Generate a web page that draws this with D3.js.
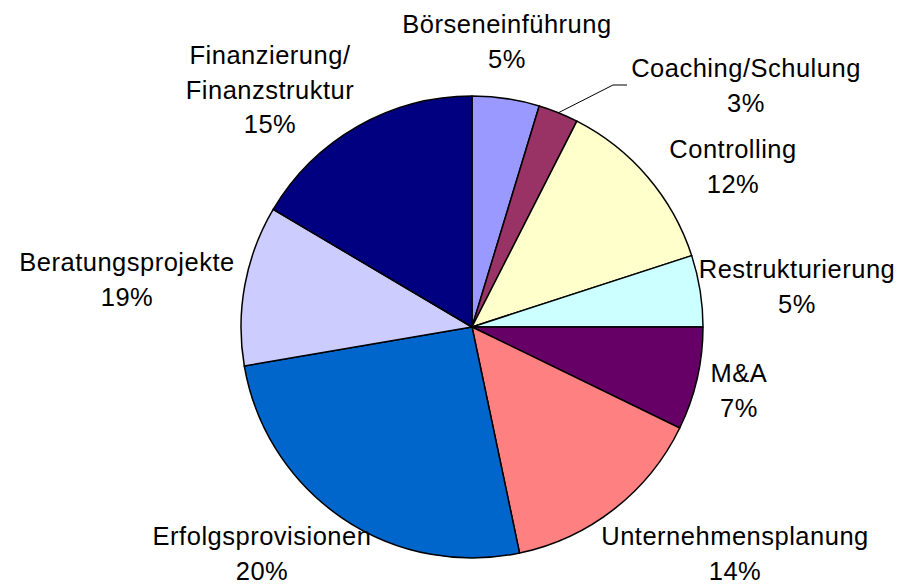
<!DOCTYPE html>
<html>
<head>
<meta charset="utf-8">
<script src="https://cdn.jsdelivr.net/npm/d3@7"></script>
<style>
  body { margin: 0; background: #fff; }
  svg { display: block; }
  text { font-family: "Liberation Sans", Arial, sans-serif; fill: #000; }
</style>
</head>
<body>
<svg id="svg" width="907" height="587"></svg>
<script>
// DATA
var categories = ["Börseneinführung", "Coaching/Schulung", "Controlling", "Restrukturierung", "M&A",
  "Unternehmensplanung", "Erfolgsprovisionen", "Beratungsprojekte", "Finanzierung/\nFinanzstruktur"];
// slice sizes as drawn (share of the circle, %)
var sliceValues = [4.7, 2.8, 12.5, 5.0, 7.2, 14.5, 25.6, 11.2, 16.5];
// percentages as printed on the labels
var pctLabels = ["5%", "3%", "12%", "5%", "7%", "14%", "20%", "19%", "15%"];
var colors = ["#9999ff", "#993366", "#ffffcc", "#ccffff", "#660066",
  "#ff8080", "#0066cc", "#ccccff", "#000080"];

// label anchor (centre x, first baseline y)
var labelPos = [[507, 33], [746, 77], [733, 158], [797, 278], [739, 382],
  [735, 545], [262, 545], [127, 271], [270, 64]];

// SETUP
var svg = d3.select("#svg"),
  cx = 472, cy = 327, radius = 231,
  lineH = 34.5;

var pie = d3.pie().sort(null).value(function (d) { return d; });
var arc = d3.arc().innerRadius(0).outerRadius(radius);
var arcs = pie(sliceValues);

var g = svg.append("g")
  .attr("transform", "translate(" + cx + "," + cy + ")");

g.selectAll(".slice")
  .data(arcs)
  .enter().append("path")
  .attr("class", "slice")
  .attr("d", arc)
  .attr("fill", function (d, i) { return colors[i]; })
  .attr("stroke", "#000")
  .attr("stroke-width", 1.5)
  .attr("stroke-linejoin", "round");

// leader line for the small Coaching slice
var a = arcs[1], mid = (a.startAngle + a.endAngle) / 2;
var p0 = [cx + radius * Math.sin(mid), cy - radius * Math.cos(mid)];
svg.append("polyline")
  .attr("points", [p0, [613, 85], [627, 85]].map(function (p) { return p.join(","); }).join(" "))
  .attr("fill", "none")
  .attr("stroke", "#000")
  .attr("stroke-width", 1);

// labels
var labels = svg.selectAll(".label")
  .data(categories)
  .enter().append("text")
  .attr("class", "label")
  .attr("text-anchor", "middle")
  .attr("font-size", "25.5px")
  .attr("letter-spacing", "0.5px");

labels.each(function (name, i) {
  var t = d3.select(this);
  var lines = name.split("\n").concat([pctLabels[i]]);
  lines.forEach(function (s, k) {
    t.append("tspan")
      .attr("x", labelPos[i][0])
      .attr("y", labelPos[i][1] + k * lineH)
      .text(s);
  });
});
</script>
</body>
</html>
